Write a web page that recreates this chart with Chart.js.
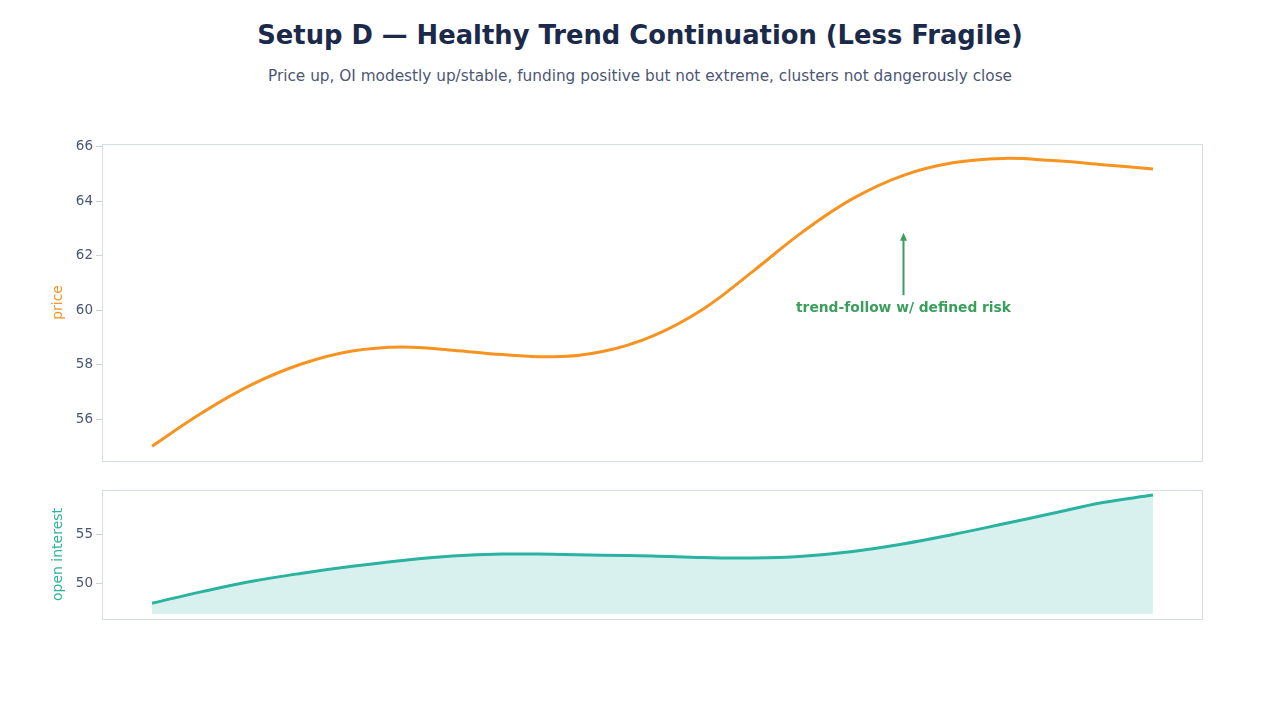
<!DOCTYPE html>
<html>
<head>
<meta charset="utf-8">
<script src="https://cdn.jsdelivr.net/npm/chart.js@4.4.1/dist/chart.umd.min.js"></script>
<style>
    body { margin: 0; background: #ffffff; width: 1280px; height: 720px; overflow: hidden; position: relative; font-family: "DejaVu Sans", sans-serif; }
    #title { position: absolute; top: 19px; left: 0; width: 1280px; text-align: center; font-size: 25.8px; font-weight: bold; color: #1b2a4a; line-height: 32px; }
    #subtitle { position: absolute; top: 66px; left: 0; width: 1280px; text-align: center; font-size: 15.3px; color: #4b5675; line-height: 20px; }
    #priceWrap { position: absolute; left: 0; top: 130px; width: 1280px; height: 342px; }
    #oiWrap { position: absolute; left: 0; top: 479px; width: 1280px; height: 151px; }
</style>
</head>
<body>
<div id="title">Setup D — Healthy Trend Continuation (Less Fragile)</div>
<div id="subtitle">Price up, OI modestly up/stable, funding positive but not extreme, clusters not dangerously close</div>
<div id="priceWrap"><canvas id="priceChart"></canvas></div>
<div id="oiWrap"><canvas id="oiChart"></canvas></div>

<script>
// x positions (time steps)
const steps = [0, 1, 2, 3, 4, 5, 6, 7, 8, 9, 10, 11, 12, 13, 14, 15, 16, 17, 18, 19, 20];

// price series
const price = [55.0, 56.23, 57.27, 58.03, 58.5, 58.65, 58.53, 58.37, 58.29, 58.48, 59.05,
               60.03, 61.42, 62.88, 64.1, 64.95, 65.42, 65.58, 65.5, 65.35, 65.19];

// open interest series
const openInterest = [48.07, 49.23, 50.27, 51.08, 51.77, 52.35, 52.8, 53.0, 52.97, 52.88, 52.8,
                      52.65, 52.6, 52.78, 53.25, 54.0, 54.95, 56.0, 57.08, 58.15, 58.9];

// tick values
const priceTicks = [56, 58, 60, 62, 64, 66];
const oiTicks = [50, 55];

// annotation on the price panel
const note = { x: 15, tipY: 62.85, tailY: 60.55, labelY: 60.05, text: 'trend-follow w/ defined risk' };

const orange = '#f7931e';
const teal = '#2ab3a0';
const tickColor = '#4b5675';
const frameColor = '#d6dce8';

Chart.defaults.font.family = '"DejaVu Sans", sans-serif';
Chart.defaults.animation = false;

// draw a thin box around the plotting area
const framePlugin = {
    id: 'frame',
    afterDraw(chart) {
        const a = chart.chartArea;
        const ctx = chart.ctx;
        ctx.save();
        ctx.strokeStyle = frameColor;
        ctx.lineWidth = 1;
        ctx.strokeRect(Math.round(a.left) + 0.5, Math.round(a.top) + 0.5, Math.round(a.right - a.left) - 1, Math.round(a.bottom - a.top));
        ctx.restore();
    }
};

// arrow + label annotation
const notePlugin = {
    id: 'note',
    afterDatasetsDraw(chart) {
        if (chart.canvas.id !== 'priceChart') return;
        const xs = chart.scales.x, ys = chart.scales.y;
        const ctx = chart.ctx;
        const x = Math.round(xs.getPixelForValue(note.x)) + 0.5;
        const tip = ys.getPixelForValue(note.tipY);
        const tail = ys.getPixelForValue(note.tailY);
        ctx.save();
        ctx.strokeStyle = '#3a9e5c';
        ctx.fillStyle = '#3a9e5c';
        ctx.lineWidth = 2;
        ctx.beginPath();
        ctx.moveTo(x, tail);
        ctx.lineTo(x, tip + 6);
        ctx.stroke();
        ctx.beginPath();
        ctx.moveTo(x, tip);
        ctx.lineTo(x - 3.5, tip + 8);
        ctx.lineTo(x + 3.5, tip + 8);
        ctx.closePath();
        ctx.fill();
        ctx.font = 'bold 13.8px "DejaVu Sans", sans-serif';
        ctx.textAlign = 'center';
        ctx.textBaseline = 'middle';
        ctx.fillText(note.text, x, ys.getPixelForValue(note.labelY));
        ctx.restore();
    }
};

function yScale(min, max, step, title, color) {
    return {
        min: min,
        max: max,
        afterFit(axis) { axis.width = 52; },
        ticks: { stepSize: step, includeBounds: false, color: tickColor, font: { size: 13.5 }, padding: 3 },
        grid: { display: true, drawOnChartArea: false, drawTicks: true, tickLength: 6, color: '#c9d0dd' },
        border: { display: false },
        title: { display: true, text: title, color: color, font: { size: 14 }, padding: { top: 0, bottom: 4 } }
    };
}

const xScale = { type: 'linear', min: -1, max: 21, display: false };

new Chart(document.getElementById('priceChart'), {
    type: 'line',
    data: {
        datasets: [{
            label: 'price',
            data: steps.map((s, i) => ({ x: s, y: price[i] })),
            borderColor: orange,
            borderWidth: 3,
            pointRadius: 0,
            tension: 0.4,
            fill: false
        }]
    },
    options: {
        responsive: true,
        maintainAspectRatio: false,
        layout: { padding: { left: 50, right: 77, top: 14, bottom: 7 } },
        plugins: { legend: { display: false }, tooltip: { enabled: false } },
        scales: { x: xScale, y: yScale(54.46, 66.11, 2, 'price', orange) }
    },
    plugins: [framePlugin, notePlugin]
});

new Chart(document.getElementById('oiChart'), {
    type: 'line',
    data: {
        datasets: [{
            label: 'open interest',
            data: steps.map((s, i) => ({ x: s, y: openInterest[i] })),
            borderColor: teal,
            borderWidth: 3,
            backgroundColor: 'rgba(42, 179, 160, 0.18)',
            pointRadius: 0,
            tension: 0.4,
            fill: { value: 47 }
        }]
    },
    options: {
        responsive: true,
        maintainAspectRatio: false,
        layout: { padding: { left: 50, right: 77, top: 9, bottom: 11 } },
        plugins: { legend: { display: false }, tooltip: { enabled: false } },
        scales: { x: xScale, y: yScale(46.5, 59.4, 5, 'open interest', teal) }
    },
    plugins: [framePlugin]
});
</script>
</body>
</html>
